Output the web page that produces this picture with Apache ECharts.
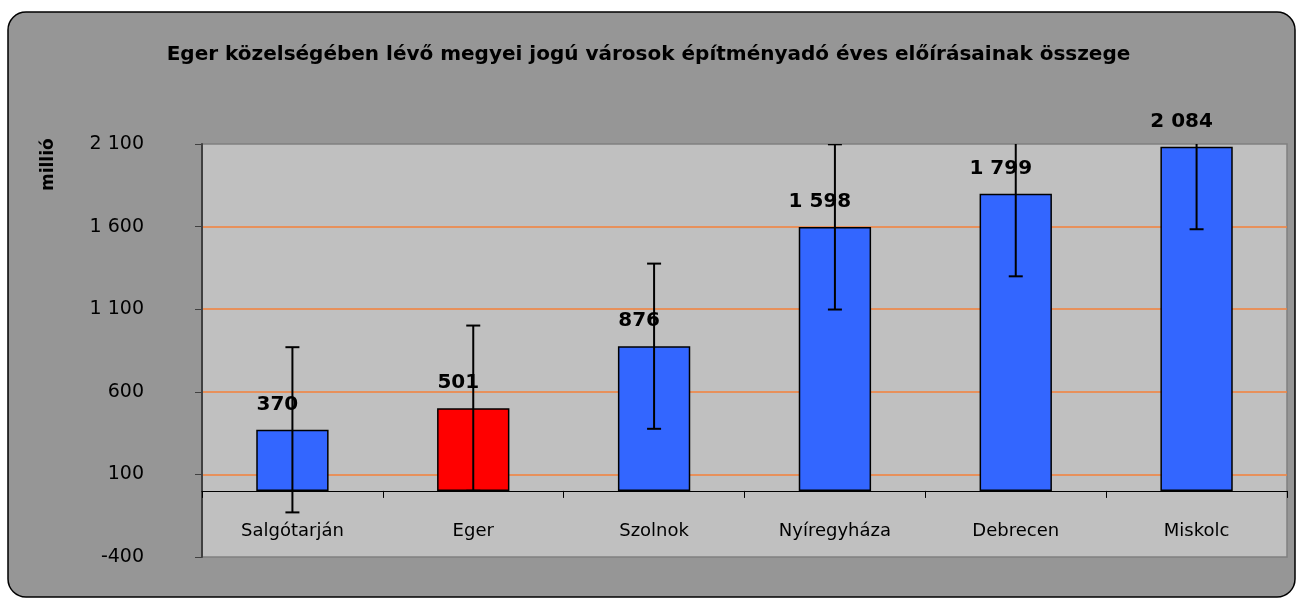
<!DOCTYPE html>
<html>
<head>
<meta charset="utf-8">
<script src="https://cdn.jsdelivr.net/npm/echarts@6/dist/echarts.min.js"></script>
<style>
  html, body { margin: 0; padding: 0; background: #fff; }
  #chart { width: 1297px; height: 599px; }
</style>
</head>
<body>
<div id="chart"></div>
<script>
// data
var cities = ['Salgótarján', 'Eger', 'Szolnok', 'Nyíregyháza', 'Debrecen', 'Miskolc'];
var amounts = [370, 501, 876, 1598, 1799, 2084];
var errors = [500, 500, 500, 500, 500, 500];
var barColors = ['#3366ff', '#ff0000', '#3366ff', '#3366ff', '#3366ff', '#3366ff'];
var yTicks = { min: -400, max: 2100, step: 500 };

var titleText = 'Eger közelségében lévő megyei jogú városok építményadó éves előírásainak összege';
var labelFont = 'DejaVu Sans';

// "2084" -> "2 084"
var fmt = function (v) {
    return String(v).replace(/\B(?=(\d{3})+(?!\d))/g, ' ');
};

var chart = echarts.init(document.getElementById('chart'), null, { renderer: 'canvas' });

var barData = amounts.map(function (v, i) {
    return { value: v, itemStyle: { color: barColors[i] } };
});
var errData = amounts.map(function (v, i) {
    return [i, v - errors[i], v + errors[i]];
});

chart.setOption({
    backgroundColor: '#ffffff',
    animation: false,
    graphic: [
        {
            type: 'rect', z: -10, silent: true,
            shape: { x: 8, y: 12, width: 1287, height: 585, r: 18 },
            style: { fill: '#969696', stroke: '#000', lineWidth: 1.5 }
        },
        {
            type: 'text', left: 'center', top: 45,
            style: { text: titleText, font: 'bold 20px "Comic Sans MS", ' + labelFont, fill: '#000' }
        },
        {
            type: 'text', x: 40, y: 191, rotation: Math.PI / 2,
            style: { text: 'millió', font: 'bold 17px "Comic Sans MS", ' + labelFont, fill: '#000' }
        }
    ],
    grid: {
        left: 202, right: 10, top: 144, bottom: 42,
        outerBoundsMode: 'none',
        show: true, backgroundColor: '#c0c0c0', borderColor: '#808080', borderWidth: 1.5
    },
    xAxis: {
        type: 'category',
        data: cities,
        axisLine: { onZero: true, lineStyle: { color: '#000', width: 1.2 } },
        axisTick: { show: true, length: 7, lineStyle: { color: '#000' } },
        axisLabel: {
            margin: -35, color: '#000', fontSize: 18,
            fontFamily: '"Comic Sans MS", ' + labelFont
        }
    },
    yAxis: {
        type: 'value',
        min: yTicks.min, max: yTicks.max, interval: yTicks.step,
        axisLine: { show: true, lineStyle: { color: '#404040', width: 2 } },
        axisTick: { show: true, length: 7, lineStyle: { color: '#404040' } },
        axisLabel: {
            margin: 58, color: '#000', fontSize: 19, fontFamily: labelFont,
            formatter: function (v) { return fmt(v); }
        },
        splitLine: { showMinLine: false, showMaxLine: false, lineStyle: { color: '#f5803a', width: 1.5 } }
    },
    series: [
        {
            type: 'bar',
            data: barData,
            barWidth: '40%',
            itemStyle: { borderColor: '#000', borderWidth: 1.5 },
            label: {
                show: true, position: 'top', distance: 15, offset: [-15, 0],
                color: '#000', fontWeight: 'bold', fontSize: 20,
                fontFamily: '"Comic Sans MS", ' + labelFont,
                formatter: function (p) { return fmt(p.value); }
            }
        },
        {
            type: 'custom',
            clip: true,
            z: 5,
            data: errData,
            encode: { x: 0, y: [1, 2] },
            renderItem: function (params, api) {
                var x = api.value(0);
                var lo = api.coord([x, api.value(1)]);
                var hi = api.coord([x, api.value(2)]);
                var hw = 7;
                var st = { stroke: '#000', lineWidth: 2 };
                return {
                    type: 'group',
                    children: [
                        { type: 'line', shape: { x1: lo[0], y1: lo[1], x2: hi[0], y2: hi[1] }, style: st },
                        { type: 'line', shape: { x1: lo[0] - hw, y1: lo[1], x2: lo[0] + hw, y2: lo[1] }, style: st },
                        { type: 'line', shape: { x1: hi[0] - hw, y1: hi[1], x2: hi[0] + hw, y2: hi[1] }, style: st }
                    ]
                };
            }
        }
    ]
});
</script>
</body>
</html>
